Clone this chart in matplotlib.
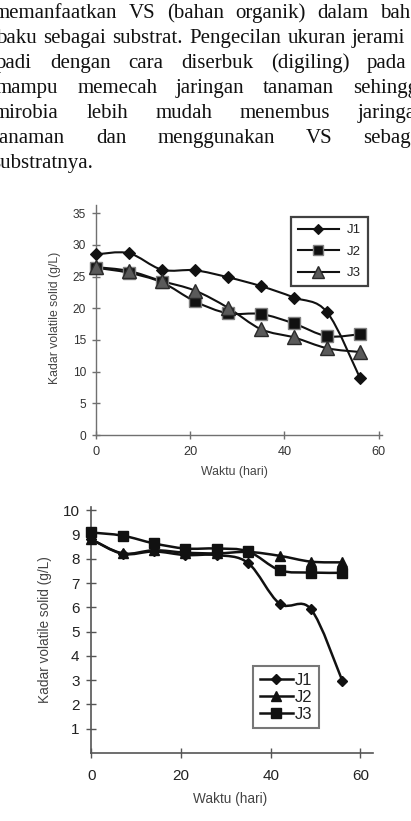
import numpy as np
import matplotlib
matplotlib.use("Agg")
import matplotlib.pyplot as plt
from matplotlib.path import Path
from matplotlib.patches import PathPatch
from matplotlib.lines import Line2D

# ---------------- data ----------------
days = [0, 7, 14, 21, 28, 35, 42, 49, 56]

# chart 1
c1_J1 = [28.5, 28.7, 26.1, 26.0, 24.9, 23.5, 21.7, 19.4, 9.0]
c1_J2 = [26.4, 25.6, 24.1, 21.1, 19.2, 19.1, 17.6, 15.6, 15.9]
c1_J3 = [26.5, 25.9, 24.3, 22.8, 20.1, 16.7, 15.4, 13.7, 13.1]

# chart 2
c2_J1 = [8.8, 8.2, 8.3, 8.15, 8.15, 7.82, 6.15, 5.92, 2.97]
c2_J2 = [8.8, 8.22, 8.35, 8.25, 8.22, 8.28, 8.12, 7.88, 7.85]
c2_J3 = [9.08, 8.95, 8.63, 8.42, 8.42, 8.3, 7.53, 7.43, 7.42]

series_names = ["J1", "J2", "J3"]
c1_yticks = [0, 5, 10, 15, 20, 25, 30, 35]
c2_yticks = [1, 2, 3, 4, 5, 6, 7, 8, 9, 10]
xticks = [0, 20, 40, 60]
xlabel = "Waktu (hari)"
ylabel = "Kadar volatile solid (g/L)"

para_words = [
    ["memanfaatkan", "VS", "(bahan", "organik)", "dalam", "bahan"],
    ["baku", "sebagai", "substrat.", "Pengecilan", "ukuran", "jerami"],
    ["padi", "dengan", "cara", "diserbuk", "(digiling)", "pada"],
    ["mampu", "memecah", "jaringan", "tanaman", "sehingga"],
    ["mirobia", "lebih", "mudah", "menembus", "jaringan"],
    ["tanaman", "dan", "menggunakan", "VS", "sebagai"],
    ["substratnya."],
]
# (start of first word, start of last word) in pixels
para_span = [(-6, 380), (-4, 352), (-4, 367), (-4, 353), (-6, 358), (-6, 363), (-8, None)]

W, H = 411, 821
fig = plt.figure(figsize=(W / 100, H / 100), dpi=100)
fig.patch.set_facecolor("white")

# ---------------- paragraph (justified) ----------------
renderer = fig.canvas.get_renderer()
for i, (words, (x0, xl)) in enumerate(zip(para_words, para_span)):
    base = 18 + 25 * i
    texts = [fig.text(0, 1 - base / H, w, fontsize=15, family="Liberation Serif",
                      color="#111111", ha="left", va="baseline") for w in words]
    widths = [t.get_window_extent(renderer).width for t in texts]
    if len(words) > 1:
        gap = (xl - x0 - sum(widths[:-1])) / (len(words) - 1)
    else:
        gap = 0
    x = x0
    for t, wdt in zip(texts, widths):
        t.set_x(x / W)
        x += wdt + gap


def smooth_path(x, y):
    pts = np.column_stack([x, y]).astype(float)
    n = len(pts)
    verts = [pts[0]]
    codes = [Path.MOVETO]
    for i in range(n - 1):
        p0 = pts[i - 1] if i > 0 else pts[i]
        p1 = pts[i]
        p2 = pts[i + 1]
        p3 = pts[i + 2] if i + 2 < n else pts[i + 1]
        c1 = p1 + (p2 - p0) / 6.0
        c2 = p2 - (p3 - p1) / 6.0
        verts += [c1, c2, p2]
        codes += [Path.CURVE4] * 3
    return Path(verts, codes)


def style_axes(ax, spine_col, lw):
    for s in ["top", "right"]:
        ax.spines[s].set_visible(False)
    for s in ["left", "bottom"]:
        ax.spines[s].set_color(spine_col)
        ax.spines[s].set_linewidth(lw)


# ---------------- chart 1 ----------------
ax1 = fig.add_axes([95.7 / W, 1 - 435 / H, (381.7 - 95.7) / W, (435 - 205) / H])
ax1.set_xlim(0, 60.6)
ax1.set_ylim(0, 36.3)
style_axes(ax1, "#707070", 1.0)
ax1.set_xticks(xticks)
ax1.set_yticks(c1_yticks)
ax1.tick_params(axis="both", direction="inout", length=6, width=1.0, color="#707070",
                labelcolor="#333333")
ax1.tick_params(axis="y", labelsize=8.6, pad=4)
ax1.tick_params(axis="x", labelsize=9.2, pad=5)
ax1.set_xlabel(xlabel, fontsize=8.8, color="#444444", family="Liberation Sans")
ax1.set_ylabel(ylabel, fontsize=8.8, color="#444444", family="Liberation Sans")
ax1.xaxis.set_label_coords(0.484, -0.135)
ax1.yaxis.set_label_coords(-0.121, 0.509)
for lab in ax1.get_xticklabels() + ax1.get_yticklabels():
    lab.set_family("Liberation Sans")

styles1 = [
    dict(marker="D", ms=6.0, mfc="#111111", mec="#111111", mew=0.8),
    dict(marker="s", ms=9.0, mfc="#111111", mec="#808080", mew=1.0),
    dict(marker="^", ms=9.5, mfc="#5a5a5a", mec="#2a2a2a", mew=1.0),
]
handles1 = []
for ys, st, name in zip([c1_J1, c1_J2, c1_J3], styles1, series_names):
    ax1.add_patch(PathPatch(smooth_path(days, ys), fc="none", ec="#111111", lw=1.5, zorder=2))
    ax1.plot(days, ys, ls="none", zorder=3, clip_on=False, **st)
    handles1.append(Line2D([], [], color="#111111", lw=1.5, label=name, **st))
leg1 = ax1.legend(handles=handles1, loc="upper left", bbox_to_anchor=(290.7 / W, 1 - 216.7 / H),
                  bbox_transform=fig.transFigure, frameon=True, fancybox=False,
                  prop=dict(family="Liberation Sans", size=9.5), handlelength=3.1,
                  handletextpad=0.6, labelspacing=0.7, borderpad=0.55, borderaxespad=0,
                  markerscale=0.85)
leg1.get_frame().set_edgecolor("#111111")
leg1.get_frame().set_linewidth(1.6)
for t in leg1.get_texts():
    t.set_color("#222222")

# ---------------- chart 2 ----------------
ax2 = fig.add_axes([91.3 / W, 1 - 753 / H, (373.3 - 91.3) / W, (753 - 507) / H])
ax2.set_xlim(0, 62.9)
ax2.set_ylim(0, 10.13)
style_axes(ax2, "#555555", 1.2)
ax2.set_xticks(xticks)
ax2.set_yticks(c2_yticks)
ax2.tick_params(axis="both", direction="inout", length=7, width=1.0, color="#555555",
                labelcolor="#222222")
ax2.tick_params(axis="y", labelsize=11, pad=5)
ax2.tick_params(axis="x", labelsize=11, pad=8)
ax2.set_xlabel(xlabel, fontsize=9.8, color="#444444", family="Liberation Sans")
ax2.set_ylabel(ylabel, fontsize=9.8, color="#444444", family="Liberation Sans")
ax2.xaxis.set_label_coords(0.492, -0.159)
ax2.yaxis.set_label_coords(-0.139, 0.5)
for lab in ax2.get_xticklabels() + ax2.get_yticklabels():
    lab.set_family("Liberation Sans")

styles2 = [
    dict(marker="D", ms=5.5, mfc="#111111", mec="#111111"),
    dict(marker="^", ms=7.0, mfc="#111111", mec="#111111"),
    dict(marker="s", ms=7.5, mfc="#111111", mec="#111111"),
]
handles2 = []
for ys, st, name in zip([c2_J1, c2_J2, c2_J3], styles2, series_names):
    ax2.add_patch(PathPatch(smooth_path(days, ys), fc="none", ec="#111111", lw=1.8, zorder=2))
    ax2.plot(days, ys, ls="none", zorder=3, clip_on=False, **st)
    handles2.append(Line2D([], [], color="#111111", lw=1.8, label=name, **st))
leg2 = ax2.legend(handles=handles2, loc="upper left", bbox_to_anchor=(253 / W, 1 - 666 / H),
                  bbox_transform=fig.transFigure, frameon=True, fancybox=False,
                  prop=dict(family="Liberation Sans", size=12), handlelength=2.0,
                  handletextpad=0.1, labelspacing=0.12, borderpad=0.4, borderaxespad=0)
leg2.get_frame().set_edgecolor("#555555")
leg2.get_frame().set_linewidth(1.5)
for t in leg2.get_texts():
    t.set_color("#222222")

fig.savefig("out.png", dpi=100, facecolor="white")
